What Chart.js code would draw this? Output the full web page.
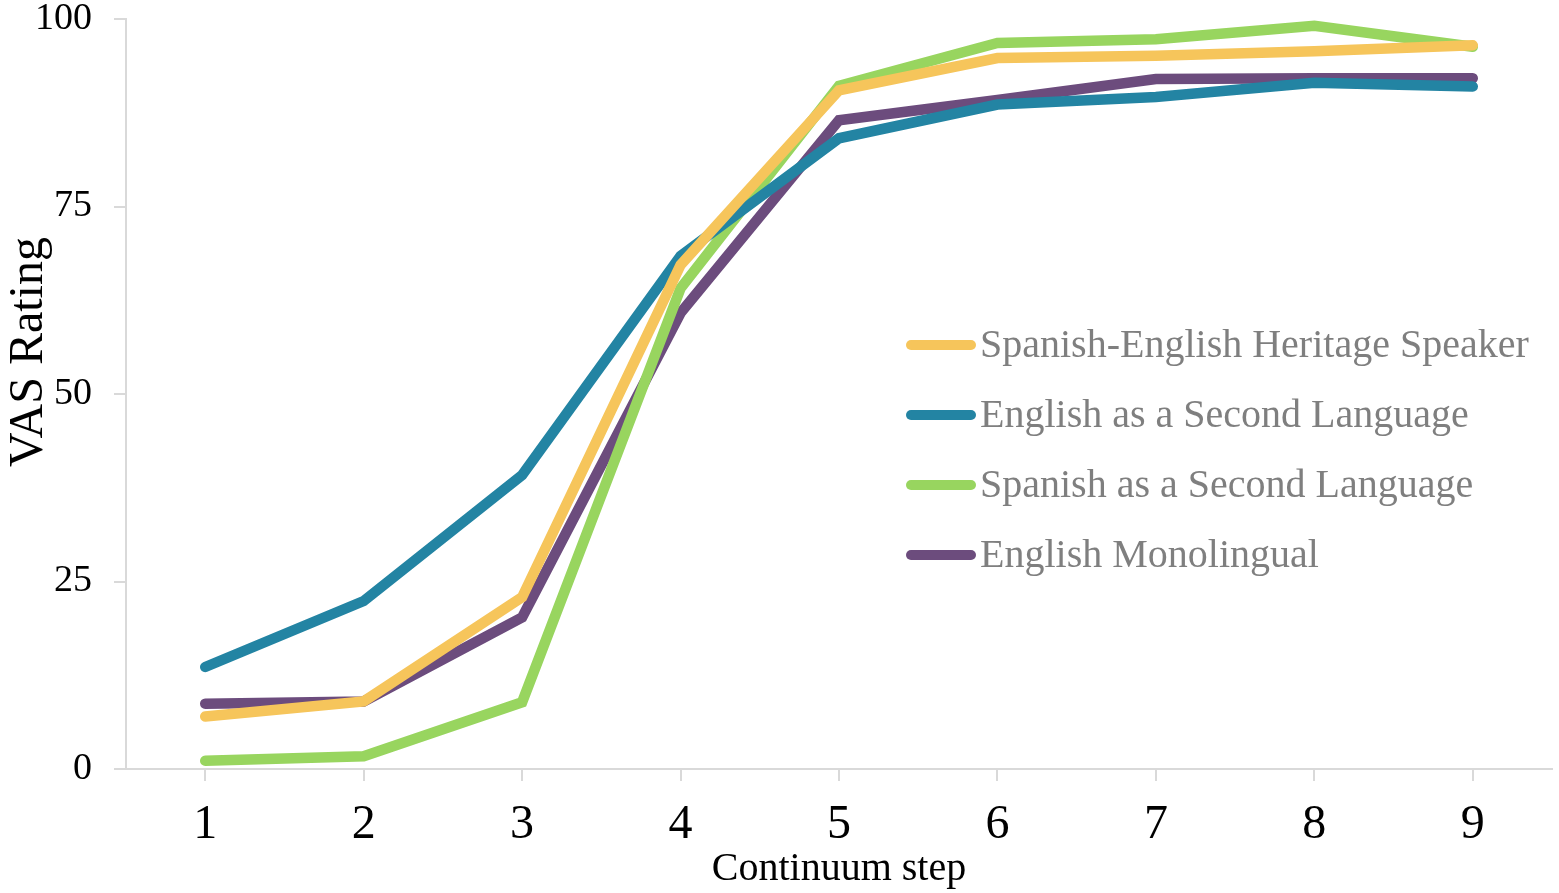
<!DOCTYPE html>
<html>
<head>
<meta charset="utf-8">
<script src="https://cdn.jsdelivr.net/npm/chart.js@4.4.1/dist/chart.umd.min.js"></script>
<style>
  html, body { margin: 0; padding: 0; background: #fff; }
  #wrap { width: 1559px; height: 893px; }
</style>
</head>
<body>
<div id="wrap"><canvas id="chart"></canvas></div>
<script>
// Daten
const steps = ["1", "2", "3", "4", "5", "6", "7", "8", "9"];
const yTicks = [0, 25, 50, 75, 100];

const heritage = [7.0, 9.0, 22.9, 67.2, 90.5, 94.8, 95.1, 95.7, 96.5];
const esl = [13.6, 22.4, 39.2, 68.4, 84.1, 88.6, 89.6, 91.5, 91.0];
const ssl = [1.1, 1.7, 8.9, 64.1, 91.1, 96.8, 97.3, 99.1, 96.3];
const monolingual = [8.7, 9.0, 20.2, 60.8, 86.5, 89.2, 92.0, 92.1, 92.1];

const labels = [
  "Spanish-English Heritage Speaker",
  "English as a Second Language",
  "Spanish as a Second Language",
  "English Monolingual",
];
const colors = ["#F6C55B", "#2384A3", "#98D55F", "#6C4C7D"];
const series = [heritage, esl, ssl, monolingual];

const serif = "'Liberation Serif', 'Times New Roman', serif";

// Legende innerhalb des Diagrammbereichs + Y-Titel (leicht nach oben versetzt wie im Original)
const extras = {
  id: "extras",
  afterDraw(chart) {
    const ctx = chart.ctx;
    ctx.save();
    ctx.font = "40px " + serif;
    ctx.textBaseline = "middle";
    chart.data.datasets.forEach((ds, i) => {
      const y = 345 + i * 70;
      ctx.strokeStyle = ds.borderColor;
      ctx.lineWidth = 10;
      ctx.lineCap = "round";
      ctx.beginPath();
      ctx.moveTo(911, y);
      ctx.lineTo(971, y);
      ctx.stroke();
      ctx.fillStyle = "#7f7f7f";
      ctx.fillText(ds.label, 980, y + 1);
    });

    // Y-Achsentitel
    ctx.translate(27, 352);
    ctx.rotate(-Math.PI / 2);
    ctx.textAlign = "center";
    ctx.fillStyle = "#000";
    ctx.font = "48px " + serif;
    ctx.fillText("VAS Rating", 0, 2);
    ctx.restore();
  },
};

const ctx = document.getElementById("chart").getContext("2d");
new Chart(ctx, {
  type: "line",
  data: {
    labels: steps,
    datasets: series.map((data, i) => ({
      label: labels[i],
      data,
      borderColor: colors[i],
      backgroundColor: colors[i],
      borderWidth: 10.5,
      borderCapStyle: "round",
      borderJoinStyle: "miter",
      pointRadius: 0,
      tension: 0,
    })),
  },
  options: {
    responsive: true,
    maintainAspectRatio: false,
    animation: false,
    layout: { padding: { top: 19, right: 7, left: 0, bottom: 0 } },
    scales: {
      x: {
        offset: true,
        grid: {
          display: true,
          drawOnChartArea: false,
          color: "#d9d9d9",
          lineWidth: 2,
          tickLength: 12,
          offset: false,
        },
        border: { color: "#d9d9d9", width: 2 },
        ticks: {
          color: "#000",
          font: { family: serif, size: 48 },
          padding: 16,
          maxRotation: 0,
        },
        title: {
          display: true,
          text: "Continuum step",
          color: "#000",
          font: { family: serif, size: 40 },
          padding: { top: 0, bottom: 0 },
        },
        afterFit(scale) {
          scale.height = 124;
          scale.paddingLeft = 0;
          scale.paddingRight = 0;
        },
      },
      y: {
        min: 0,
        max: 100,
        afterBuildTicks(scale) { scale.ticks = yTicks.map((v) => ({ value: v })); },
        grid: {
          display: true,
          drawOnChartArea: false,
          color: "#d9d9d9",
          lineWidth: 2,
          tickLength: 12,
        },
        border: { color: "#d9d9d9", width: 2 },
        ticks: {
          color: "#000",
          font: { family: serif, size: 38 },
          padding: 22,
        },
        afterFit(scale) {
          scale.width = 126;
          scale.paddingTop = 0;
          scale.paddingBottom = 0;
        },
      },
    },
    plugins: {
      legend: { display: false },
      tooltip: { enabled: false },
    },
  },
  plugins: [extras],
});
</script>
</body>
</html>
